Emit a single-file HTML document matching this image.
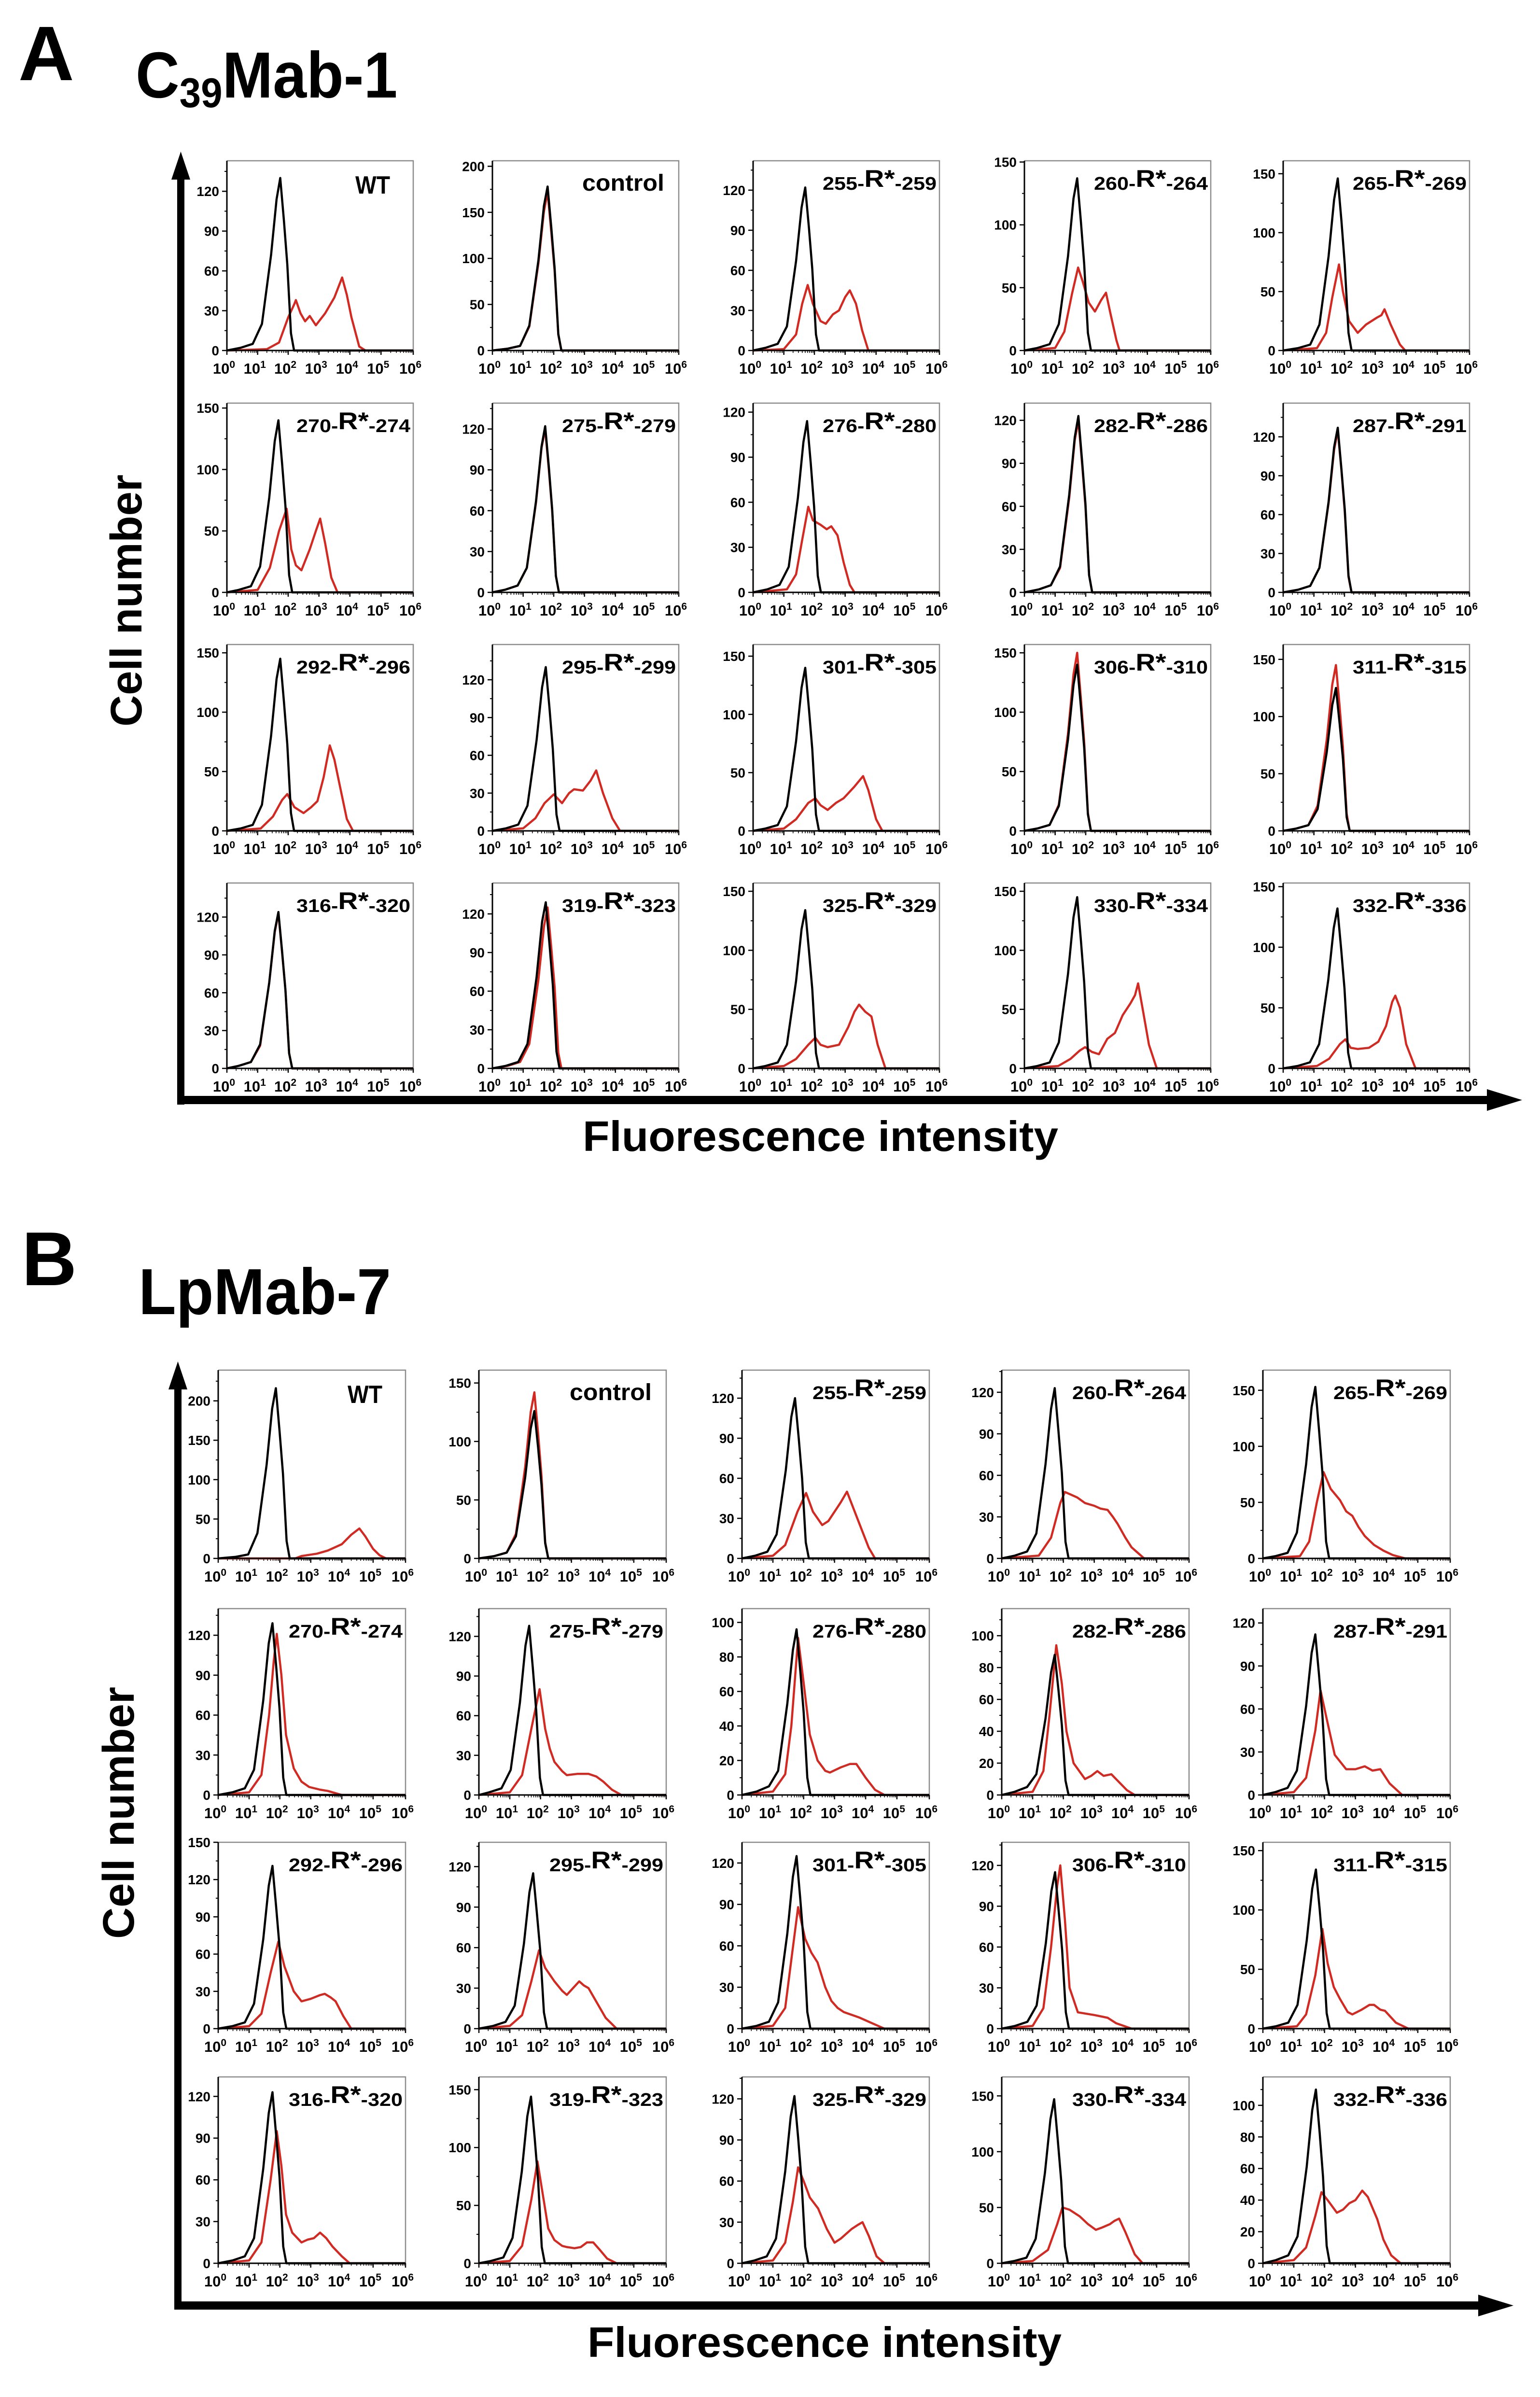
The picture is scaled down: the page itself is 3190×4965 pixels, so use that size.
<!DOCTYPE html>
<html><head><meta charset="utf-8"><title>Flow cytometry histograms</title>
<style>
html,body{margin:0;padding:0;background:#fff;}
svg{display:block;}
text{font-family:"Liberation Sans",sans-serif;font-weight:bold;fill:#000;}
</style></head>
<body>
<svg id="fig" xmlns="http://www.w3.org/2000/svg" width="3190" height="4965" viewBox="0 0 3190 4965">
<rect x="0" y="0" width="3190" height="4965" fill="#fff"/>
<text x="38" y="166" font-size="160">A</text>
<text x="281" y="202" font-size="135" transform="translate(281 0) scale(0.93 1) translate(-281 0)">C<tspan font-size="86" dy="20">39</tspan><tspan dy="-20">Mab-1</tspan></text>
<text x="45" y="2662" font-size="158">B</text>
<text x="287" y="2722" font-size="135" textLength="523" lengthAdjust="spacingAndGlyphs">LpMab-7</text>
<g>
<rect x="367" y="360" width="15" height="1928" fill="#000"/>
<polygon points="374.5,314 355,372 394,372" fill="#000"/>
</g>
<g>
<rect x="367" y="2270" width="2720" height="17" fill="#000"/>
<polygon points="3153,2278.5 3080,2256 3080,2301" fill="#000"/>
</g>
<g>
<rect x="361" y="2866" width="15" height="1918" fill="#000"/>
<polygon points="368.5,2820 349,2878 388,2878" fill="#000"/>
</g>
<g>
<rect x="361" y="4767" width="2705" height="17" fill="#000"/>
<polygon points="3135,4775.5 3062,4753 3062,4798" fill="#000"/>
</g>
<text transform="translate(293 1244) rotate(-90)" x="0" y="0" text-anchor="middle" font-size="92" textLength="522" lengthAdjust="spacingAndGlyphs">Cell number</text>
<text transform="translate(277 3755) rotate(-90)" x="0" y="0" text-anchor="middle" font-size="92" textLength="522" lengthAdjust="spacingAndGlyphs">Cell number</text>
<text x="1207" y="2384" font-size="88" textLength="985" lengthAdjust="spacingAndGlyphs">Fluorescence intensity</text>
<text x="1217" y="4882" font-size="88" textLength="982" lengthAdjust="spacingAndGlyphs">Fluorescence intensity</text>
<g id="panels"></g>
</svg>
<script>
const labels = ["WT","control","255-R*-259","260-R*-264","265-R*-269","270-R*-274","275-R*-279","276-R*-280","282-R*-286","287-R*-291","292-R*-296","295-R*-299","301-R*-305","306-R*-310","311-R*-315","316-R*-320","319-R*-323","325-R*-329","330-R*-334","332-R*-336"];
const xTickExponents = [0,1,2,3,4,5,6];
const yMaxA = [143,206,142,151,161, 154,139,126,132,146, 157,148,160,157,163, 147,144,157,157,153];
const yStepA = [30,50,30,50,50, 50,30,30,30,30, 50,30,50,50,50, 30,30,50,50,50];
const blackA = [
[0,0,.44,2,.84,5,1.14,20,1.44,72,1.62,114,1.74,130,1.86,98,1.97,65,2.09,13,2.19,0,6,0],
[0,0,.5,2,.9,5,1.2,27,1.5,98,1.68,157,1.8,178,1.92,134,2.03,89,2.15,18,2.25,0,6,0],
[0,0,.4,2,.8,5,1.1,18,1.4,67,1.58,107,1.7,122,1.82,92,1.93,61,2.05,12,2.15,0,6,0],
[0,0,.42,2,.82,5,1.12,21,1.42,75,1.6,121,1.72,137,1.84,103,1.95,69,2.07,14,2.17,0,6,0],
[0,0,.48,2,.88,5,1.18,22,1.48,80,1.66,128,1.78,146,1.9,110,2.01,73,2.13,15,2.23,0,6,0],
[0,0,.38,2,.78,5,1.08,21,1.38,77,1.56,123,1.68,140,1.8,105,1.91,70,2.03,14,2.13,0,6,0],
[0,0,.42,2,.82,5,1.12,18,1.42,67,1.6,107,1.72,122,1.84,92,1.95,61,2.07,12,2.17,0,6,0],
[0,0,.46,2,.86,5,1.16,17,1.46,63,1.64,100,1.76,114,1.88,86,1.99,57,2.11,11,2.21,0,6,0],
[0,0,.46,2,.86,5,1.16,18,1.46,68,1.64,108,1.76,123,1.88,92,1.99,62,2.11,12,2.21,0,6,0],
[0,0,.48,2,.88,5,1.18,19,1.48,70,1.66,112,1.78,127,1.9,95,2.01,64,2.13,13,2.23,0,6,0],
[0,0,.44,2,.84,5,1.14,22,1.44,80,1.62,128,1.74,145,1.86,109,1.97,73,2.09,15,2.19,0,6,0],
[0,0,.44,2,.84,5,1.14,20,1.44,72,1.62,114,1.74,130,1.86,98,1.97,65,2.09,13,2.19,0,6,0],
[0,0,.4,2,.8,5,1.1,21,1.4,77,1.58,123,1.7,140,1.82,105,1.93,70,2.05,14,2.15,0,6,0],
[0,0,.42,2,.82,5,1.12,21,1.42,77,1.6,123,1.72,140,1.84,105,1.95,70,2.07,14,2.17,0,6,0],
[0,0,.42,2,.82,5,1.12,19,1.42,69,1.6,110,1.72,125,1.84,94,1.95,63,2.07,12,2.17,0,6,0],
[0,0,.38,2,.78,5,1.08,19,1.38,68,1.56,109,1.68,124,1.8,93,1.91,62,2.03,12,2.13,0,6,0],
[0,0,.44,2,.84,5,1.14,19,1.44,71,1.62,114,1.74,129,1.86,97,1.97,65,2.09,13,2.19,0,6,0],
[0,0,.4,2,.8,5,1.1,20,1.4,74,1.58,118,1.7,134,1.82,100,1.93,67,2.05,13,2.15,0,6,0],
[0,0,.42,2,.82,5,1.12,22,1.42,80,1.6,128,1.72,145,1.84,109,1.95,73,2.07,15,2.17,0,6,0],
[0,0,.47,2,.87,5,1.17,20,1.47,73,1.65,116,1.77,132,1.89,99,2.0,66,2.12,13,2.22,0,6,0]
];
const redA = [
[0,0,1.3,1,1.7,6,2.0,25,2.2,35,2.25,38,2.4,28,2.55,22,2.7,26,2.9,19,3.2,28,3.5,40,3.75,55,3.9,42,4.05,25,4.3,3,4.5,0,6,0],
[0,0,.5,2,.9,5,1.2,26,1.5,95,1.68,151,1.8,172,1.92,129,2.03,86,2.15,17,2.25,0,6,0],
[0,0,1.0,1,1.4,12,1.6,35,1.78,49,1.95,35,2.2,22,2.37,20,2.6,27,2.8,30,3.0,40,3.15,45,3.35,35,3.55,15,3.75,0,6,0],
[0,0,1.0,2,1.3,15,1.55,45,1.75,66,1.9,55,2.1,38,2.3,31,2.5,40,2.66,46,2.8,30,3.0,8,3.1,0,6,0],
[0,0,1.1,2,1.4,15,1.6,45,1.82,73,1.95,50,2.15,25,2.43,15,2.7,22,3.06,28,3.2,30,3.3,35,3.5,22,3.8,5,3.97,0,6,0],
[0,0,1.0,2,1.4,20,1.7,50,1.95,68,2.1,35,2.25,22,2.43,18,2.7,35,2.9,50,3.04,60,3.2,40,3.4,12,3.6,0,6,0],
[0,0,.42,2,.82,5,1.12,18,1.42,66,1.6,106,1.72,120,1.84,90,1.95,60,2.07,12,2.17,0,6,0],
[0,0,1.1,2,1.4,12,1.6,35,1.8,57,1.95,48,2.2,45,2.4,42,2.55,44,2.75,38,2.95,20,3.15,5,3.3,0,6,0],
[0,0,.46,2,.86,5,1.16,17,1.46,66,1.64,106,1.76,120,1.88,90,1.99,60,2.11,12,2.21,0,6,0],
[0,0,.48,2,.88,5,1.18,19,1.48,69,1.66,110,1.78,125,1.9,94,2.01,62,2.13,12,2.23,0,6,0],
[0,0,1.1,2,1.5,12,1.8,26,1.97,31,2.2,20,2.5,15,2.75,20,2.95,25,3.15,45,3.35,72,3.5,60,3.7,35,3.9,10,4.1,0,6,0],
[0,0,1.0,2,1.4,10,1.7,22,2.0,29,2.27,22,2.5,30,2.66,33,2.95,32,3.2,40,3.38,48,3.6,30,3.9,10,4.15,0,6,0],
[0,0,1.0,2,1.4,10,1.8,24,2.03,28,2.2,22,2.43,18,2.7,24,2.95,28,3.3,38,3.58,47,3.75,35,4.0,10,4.2,0,6,0],
[0,0,.42,2,.82,5,1.12,22,1.42,82,1.6,132,1.72,150,1.84,112,1.95,75,2.07,15,2.17,0,6,0],
[0,0,.42,2,.82,5,1.12,22,1.42,80,1.6,128,1.72,145,1.84,109,1.95,73,2.07,15,2.17,0,6,0],
[0,0,.38,2,.78,5,1.08,18,1.38,68,1.56,108,1.68,123,1.8,92,1.91,62,2.03,12,2.13,0,6,0],
[0,0,.5,2,.9,5,1.2,19,1.5,69,1.68,110,1.8,125,1.92,94,2.03,63,2.15,12,2.25,0,6,0],
[0,0,1.0,2,1.4,8,1.8,20,2.03,26,2.2,20,2.43,18,2.8,20,3.1,35,3.3,48,3.45,54,3.65,48,3.85,44,4.05,20,4.3,0,6,0],
[0,0,1.1,2,1.5,8,1.8,15,1.98,18,2.2,14,2.43,12,2.7,25,2.95,30,3.2,45,3.45,55,3.6,62,3.7,72,3.85,50,4.05,20,4.3,0,6,0],
[0,0,1.1,2,1.5,8,1.85,20,2.03,24,2.2,17,2.43,16,2.8,17,3.1,22,3.35,35,3.55,55,3.65,60,3.8,50,4.0,20,4.3,0,6,0]
];
const yMaxB = [239,161,141,136,168, 140,141,108,117,130, 150,138,135,137,157, 134,161,136,167,118];
const yStepB = [50,50,30,30,50, 30,30,20,20,30, 30,30,30,30,50, 30,50,30,50,20];
const blackB = [
[0,0,.57,2,.97,5,1.27,32,1.57,119,1.75,190,1.87,216,1.99,162,2.1,108,2.22,22,2.32,0,6,0],
[0,0,.5,2,.9,5,1.2,19,1.5,69,1.68,111,1.8,126,1.92,95,2.03,63,2.15,13,2.25,0,6,0],
[0,0,.42,2,.82,5,1.12,18,1.42,66,1.6,106,1.72,120,1.84,90,1.95,60,2.07,12,2.17,0,6,0],
[0,0,.42,2,.82,5,1.12,18,1.42,68,1.6,108,1.72,123,1.84,92,1.95,62,2.07,12,2.17,0,6,0],
[0,0,.4,2,.8,5,1.1,23,1.4,84,1.58,135,1.7,153,1.82,115,1.93,77,2.05,15,2.15,0,6,0],
[0,0,.46,2,.86,5,1.16,19,1.46,71,1.64,114,1.76,129,1.88,97,1.99,65,2.11,13,2.21,0,6,0],
[0,0,.33,2,.73,5,1.03,19,1.33,70,1.51,113,1.63,128,1.75,96,1.86,64,1.98,13,2.08,0,6,0],
[0,0,.47,2,.87,5,1.17,14,1.47,53,1.65,84,1.77,96,1.89,72,2.0,48,2.12,10,2.22,0,6,0],
[0,0,.42,2,.82,5,1.12,13,1.42,48,1.6,77,1.72,88,1.84,66,1.95,44,2.07,9,2.17,0,6,0],
[0,0,.4,2,.8,5,1.1,17,1.4,62,1.58,99,1.7,112,1.82,84,1.93,56,2.05,11,2.15,0,6,0],
[0,0,.46,2,.86,5,1.16,20,1.46,72,1.64,115,1.76,131,1.88,98,1.99,66,2.11,13,2.21,0,6,0],
[0,0,.46,2,.86,5,1.16,17,1.46,63,1.64,101,1.76,115,1.88,86,1.99,58,2.11,12,2.21,0,6,0],
[0,0,.47,2,.87,5,1.17,19,1.47,69,1.65,110,1.77,125,1.89,94,2.0,63,2.12,12,2.22,0,6,0],
[0,0,.43,2,.83,5,1.13,17,1.43,63,1.61,101,1.73,115,1.85,86,1.96,58,2.08,12,2.18,0,6,0],
[0,0,.42,2,.82,5,1.12,20,1.42,74,1.6,118,1.72,134,1.84,101,1.95,67,2.07,13,2.17,0,6,0],
[0,0,.46,2,.86,5,1.16,18,1.46,68,1.64,108,1.76,123,1.88,92,1.99,62,2.11,12,2.21,0,6,0],
[0,0,.39,2,.79,5,1.09,22,1.39,79,1.57,127,1.69,144,1.81,108,1.92,72,2.04,14,2.14,0,6,0],
[0,0,.4,2,.8,5,1.1,18,1.4,67,1.58,107,1.7,122,1.82,92,1.93,61,2.05,12,2.15,0,6,0],
[0,0,.4,2,.8,5,1.1,22,1.4,81,1.58,129,1.7,147,1.82,110,1.93,74,2.05,15,2.15,0,6,0],
[0,0,.42,2,.82,5,1.12,17,1.42,61,1.6,97,1.72,110,1.84,83,1.95,55,2.07,11,2.17,0,6,0]
];
const redB = [
[0,0,2.5,0,2.7,3,3.2,6,3.55,10,4.0,18,4.3,30,4.56,38,4.75,28,5.0,12,5.2,4,5.4,0,6,0],
[0,0,.5,2,.9,5,1.2,21,1.5,78,1.68,125,1.8,142,1.92,107,2.03,71,2.15,14,2.25,0,6,0],
[0,0,1.0,2,1.4,10,1.8,35,2.08,49,2.3,35,2.6,25,2.8,28,3.0,35,3.2,42,3.4,50,3.6,38,3.9,20,4.1,8,4.3,0,6,0],
[0,0,1.2,2,1.6,15,1.9,40,2.05,48,2.25,46,2.45,44,2.7,40,3.0,38,3.2,36,3.43,35,3.6,30,3.75,25,4.0,15,4.2,8,4.4,4,4.6,0,6,0],
[0,0,1.2,2,1.5,15,1.75,50,1.97,77,2.2,62,2.5,52,2.7,42,2.9,38,3.1,28,3.3,20,3.6,12,3.9,7,4.2,3,4.6,0,6,0],
[0,0,1.0,2,1.4,15,1.65,60,1.8,100,1.9,121,2.05,90,2.2,45,2.45,20,2.7,10,2.95,6,3.3,4,3.55,3,4.0,0,6,0],
[0,0,1.0,2,1.4,15,1.7,50,1.97,80,2.15,50,2.3,35,2.45,25,2.7,18,2.85,15,3.2,16,3.55,16,3.8,14,4.03,10,4.3,4,4.6,0,6,0],
[0,0,1.0,2,1.4,12,1.6,40,1.82,91,2.0,65,2.2,35,2.45,20,2.7,14,2.85,13,3.2,16,3.5,18,3.7,18,4.0,10,4.3,3,4.6,0,6,0],
[0,0,1.0,2,1.35,15,1.55,50,1.77,94,1.95,70,2.1,40,2.33,20,2.7,10,2.9,12,3.1,15,3.3,12,3.55,13,3.8,8,4.05,3,4.3,0,6,0],
[0,0,1.0,2,1.4,12,1.7,45,1.87,73,2.05,55,2.33,28,2.7,18,3.0,18,3.3,20,3.55,17,3.8,18,4.1,8,4.5,0,6,0],
[0,0,1.0,2,1.4,12,1.7,45,1.95,70,2.15,50,2.45,30,2.7,22,3.0,24,3.3,27,3.45,28,3.65,25,3.8,22,4.05,10,4.3,0,6,0],
[0,0,1.0,2,1.4,10,1.7,35,1.95,58,2.15,45,2.45,35,2.7,28,2.85,25,3.05,30,3.25,35,3.4,32,3.55,30,3.8,20,4.1,8,4.45,0,6,0],
[0,0,1.0,2,1.4,15,1.6,50,1.82,88,2.05,65,2.25,55,2.45,48,2.7,30,2.9,20,3.1,15,3.3,12,3.55,10,3.8,8,4.2,4,4.6,0,6,0],
[0,0,1.0,2,1.35,15,1.6,60,1.8,105,1.9,120,2.05,80,2.2,30,2.47,12,3.0,10,3.43,8,3.7,4,4.2,0,6,0],
[0,0,1.1,2,1.4,12,1.7,45,1.93,84,2.1,55,2.3,35,2.5,25,2.75,14,2.9,12,3.2,16,3.45,20,3.6,20,3.8,16,3.95,15,4.3,5,4.7,0,6,0],
[0,0,1.0,2,1.4,15,1.7,60,1.9,95,2.05,70,2.2,35,2.4,22,2.7,15,2.9,17,3.1,18,3.3,22,3.5,18,3.7,12,4.0,5,4.25,0,6,0],
[0,0,1.0,2,1.4,15,1.7,55,1.9,88,2.1,55,2.25,30,2.45,20,2.7,15,2.85,14,3.1,13,3.3,14,3.5,18,3.7,18,3.9,12,4.15,4,4.45,0,6,0],
[0,0,1.0,2,1.4,15,1.65,45,1.82,70,2.0,60,2.2,48,2.47,40,2.75,25,3.0,15,3.2,18,3.4,22,3.55,25,3.75,28,3.9,30,4.1,20,4.35,5,4.6,0,6,0],
[0,0,1.0,2,1.5,12,1.8,35,1.97,50,2.2,48,2.53,42,2.8,35,3.05,30,3.25,32,3.5,35,3.65,38,3.8,40,4.0,28,4.3,8,4.55,0,6,0],
[0,0,1.0,2,1.4,10,1.7,30,1.9,45,2.1,40,2.4,32,2.6,34,2.8,38,3.0,40,3.22,46,3.4,42,3.55,35,3.7,28,3.9,15,4.15,5,4.45,0,6,0]
];

const NS = "http://www.w3.org/2000/svg";
const DECADE_POS = [0,0.165,0.329,0.494,0.66,0.827,1];
const layoutA = {cols:[470,1020,1560,2122,2658], w:386, rows:[333,835,1335,1829], hs:[393,392,386,384]};
const layoutB = {cols:[452,992,1537,2075,2616], w:388, rows:[2838,3332,3816,4302], hs:[390,386,386,386]};

function fracX(l){
  if (l <= 0) return 0;
  if (l >= 6) return 1;
  const i = Math.floor(l), f = l - i;
  return DECADE_POS[i] + (DECADE_POS[i+1]-DECADE_POS[i]) * f;
}
function mk(tag, parent){ const e = document.createElementNS(NS, tag); parent.appendChild(e); return e; }

function drawPanel(root, x0, y0, w, h, label, ymax, step, black, red, id){
  const g = mk('g', root);
  
  
  const sx = l => x0 + fracX(l) * w;
  const sy = v => y0 + h - Math.min(v, ymax) / ymax * h;

  const frame = mk('path', g);
  
  
  frame.setAttribute('d', `M${x0} ${y0}H${x0+w}V${y0+h}`);
  frame.setAttribute('fill', 'none');
  frame.setAttribute('stroke', '#8c8c8c');
  frame.setAttribute('stroke-width', '2.5');

  for (let v = 0; v <= ymax + 0.01; v += step){
    const y = sy(v);
    const t = mk('line', g);
    
    
    t.setAttribute('x1', x0 - 10); t.setAttribute('x2', x0);
    t.setAttribute('y1', y); t.setAttribute('y2', y);
    t.setAttribute('stroke', '#000'); t.setAttribute('stroke-width', '2.5');
    const tl = mk('text', g);
    
    
    tl.setAttribute('x', x0 - 16); tl.setAttribute('y', y + 10);
    tl.setAttribute('text-anchor', 'end'); tl.setAttribute('font-size', '28');
    tl.textContent = String(v);
    const mv = v + step/2;
    if (mv < ymax){
      const mt = mk('line', g);
      
      
      mt.setAttribute('x1', x0 - 5); mt.setAttribute('x2', x0);
      mt.setAttribute('y1', sy(mv)); mt.setAttribute('y2', sy(mv));
      mt.setAttribute('stroke', '#000'); mt.setAttribute('stroke-width', '2');
    }
  }
  xTickExponents.forEach(d => {
    const x = sx(d);
    const t = mk('line', g);
    
    
    t.setAttribute('x1', x); t.setAttribute('x2', x);
    t.setAttribute('y1', y0 + h); t.setAttribute('y2', y0 + h + 9);
    t.setAttribute('stroke', '#000'); t.setAttribute('stroke-width', '2.5');
    const tl = mk('text', g);
    
    
    tl.setAttribute('x', x - 6); tl.setAttribute('y', y0 + h + 48);
    tl.setAttribute('text-anchor', 'middle'); tl.setAttribute('font-size', '31');
    tl.textContent = '10';
    const sup = mk('tspan', tl);
    sup.setAttribute('font-size', '21'); sup.setAttribute('dy', '-12');
    sup.textContent = String(d);
    if (d < 6){
      for (let k = 2; k <= 9; k++){
        const mx = sx(d + Math.log10(k));
        const m = mk('line', g);
        
        
        m.setAttribute('x1', mx); m.setAttribute('x2', mx);
        m.setAttribute('y1', y0 + h); m.setAttribute('y2', y0 + h + 5);
        m.setAttribute('stroke', '#000'); m.setAttribute('stroke-width', '1.5');
      }
    }
  });
  const toPts = arr => { const p = []; for (let i = 0; i < arr.length; i += 2) p.push(sx(arr[i]).toFixed(1) + ',' + sy(arr[i+1]).toFixed(1)); return p.join(' '); };
  const rc = mk('polyline', g);
  
  
  rc.setAttribute('points', toPts(red));
  rc.setAttribute('fill', 'none'); rc.setAttribute('stroke', '#d12a22');
  rc.setAttribute('stroke-width', '4.5'); rc.setAttribute('stroke-linejoin', 'round');
  const bc = mk('polyline', g);
  
  
  bc.setAttribute('points', toPts(black));
  bc.setAttribute('fill', 'none'); bc.setAttribute('stroke', '#000');
  bc.setAttribute('stroke-width', '4.5'); bc.setAttribute('stroke-linejoin', 'round');

  const ax = mk('path', g);
  
  
  ax.setAttribute('d', `M${x0} ${y0}V${y0+h}H${x0+w}`);
  ax.setAttribute('fill', 'none'); ax.setAttribute('stroke', '#000'); ax.setAttribute('stroke-width', '3');

  const lb = mk('text', g);
  
  
  lb.setAttribute('text-anchor', 'end');
  if (label === 'WT'){
    lb.setAttribute('x', x0 + w - 48); lb.setAttribute('y', y0 + 68);
    lb.setAttribute('font-size', '52');
    lb.setAttribute('textLength', '72'); lb.setAttribute('lengthAdjust', 'spacingAndGlyphs');
    lb.textContent = label;
  } else if (label === 'control'){
    lb.setAttribute('x', x0 + w - 30); lb.setAttribute('y', y0 + 62);
    lb.setAttribute('font-size', '48');
    lb.setAttribute('textLength', '170'); lb.setAttribute('lengthAdjust', 'spacingAndGlyphs');
    lb.textContent = label;
  } else {
    const parts = label.split('-R*-');
    lb.setAttribute('x', x0 + w - 6); lb.setAttribute('y', y0 + 60);
    lb.setAttribute('font-size', '38');
    lb.setAttribute('textLength', '236'); lb.setAttribute('lengthAdjust', 'spacingAndGlyphs');
    const a = mk('tspan', lb); a.textContent = parts[0] + '-';
    const r = mk('tspan', lb); r.setAttribute('font-size', '50'); r.setAttribute('dy', '-6'); r.textContent = 'R*';
    const b = mk('tspan', lb); b.setAttribute('dy', '6'); b.textContent = '-' + parts[1];
  }
}

const root = document.getElementById('panels');
function drawGrid(layout, yMax, yStep, black, red, prefix){
  for (let i = 0; i < 20; i++){
    const r = Math.floor(i / 5), c = i % 5;
    drawPanel(root, layout.cols[c], layout.rows[r], layout.w, layout.hs[r], labels[i], yMax[i], yStep[i], black[i], red[i], prefix + '-' + labels[i].replace('*','star'));
  }
}
drawGrid(layoutA, yMaxA, yStepA, blackA, redA, 'a');
drawGrid(layoutB, yMaxB, yStepB, blackB, redB, 'b');
</script>
</body></html>
